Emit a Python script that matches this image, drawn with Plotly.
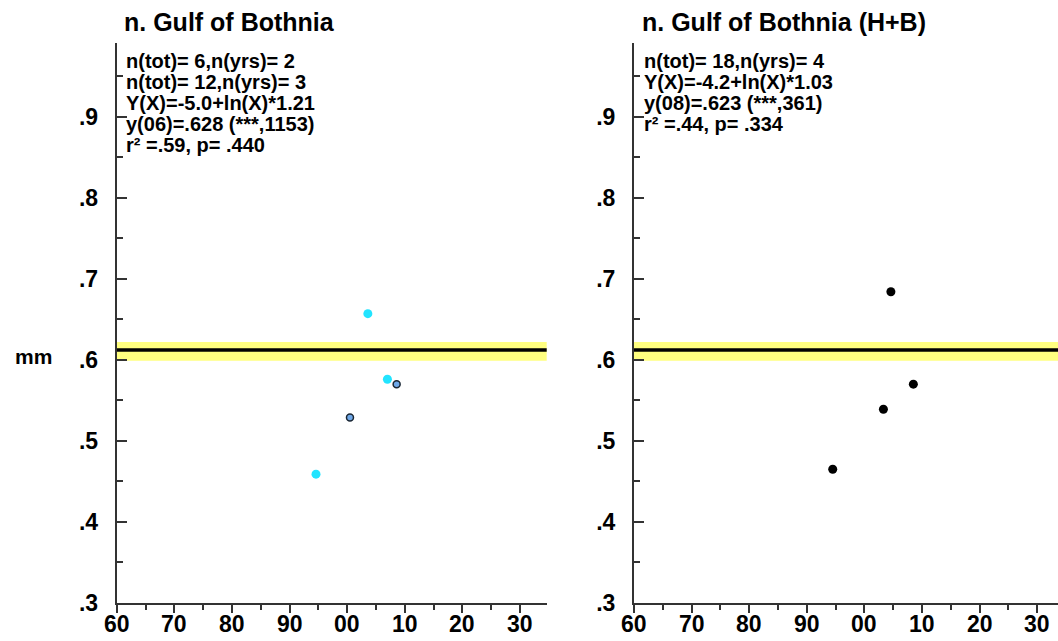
import plotly.graph_objects as go

W, H = 1058, 641

# ---- data ----
left_title = "n. Gulf of Bothnia"
right_title = "n. Gulf of Bothnia (H+B)"
left_stats = ["n(tot)= 6,n(yrs)= 2", "n(tot)= 12,n(yrs)= 3", "Y(X)=-5.0+ln(X)*1.21",
              "y(06)=.628 (***,1153)", "r² =.59, p= .440"]
right_stats = ["n(tot)= 18,n(yrs)= 4", "Y(X)=-4.2+ln(X)*1.03",
               "y(08)=.623 (***,361)", "r² =.44, p= .334"]

cyan_years = [2003.6, 2007.0, 1994.6]
cyan_vals = [0.657, 0.576, 0.459]
blue_years = [2008.6, 2000.5]
blue_vals = [0.570, 0.529]
black_years = [2004.6, 2008.5, 2003.3, 1994.5]
black_vals = [0.684, 0.570, 0.539, 0.465]

ref_level = 0.612
band_lo, band_hi = 0.599, 0.622

ytick_vals = [0.3, 0.4, 0.5, 0.6, 0.7, 0.8, 0.9]
ytick_text = [".3", ".4", ".5", ".6", ".7", ".8", ".9"]
xtick_vals = [1960, 1970, 1980, 1990, 2000, 2010, 2020, 2030]
xtick_text = ["60", "70", "80", "90", "00", "10", "20", "30"]

FONT = "Liberation Sans, Arial, sans-serif"

fig = go.Figure()
fig.add_trace(go.Scatter(x=cyan_years, y=cyan_vals, mode="markers",
                         marker=dict(color="#22E4FF", size=9, line=dict(width=0)),
                         xaxis="x", yaxis="y", showlegend=False))
fig.add_trace(go.Scatter(x=blue_years, y=blue_vals, mode="markers",
                         marker=dict(color="#6FA8E8", size=7, line=dict(color="#1a2633", width=1.5)),
                         xaxis="x", yaxis="y", showlegend=False))
fig.add_trace(go.Scatter(x=black_years, y=black_vals, mode="markers",
                         marker=dict(color="#000000", size=9, line=dict(width=0)),
                         xaxis="x2", yaxis="y2", showlegend=False))

# axis geometry (pixels)
left_x0, left_x1 = 116.7, 546.7
right_x0, right_x1 = 634.0, 1058.0
px_per_year = 5.76
y_bottom, y_top = 603.0, 43.0
px_per_unit = 810.5

yr_max = 0.3 + (y_bottom - y_top) / px_per_unit
xl_max = 1960 + (left_x1 - left_x0) / px_per_year
xr_max = 1960 + (right_x1 - right_x0) / px_per_year

ydom = [(H - y_bottom) / H, (H - y_top) / H]

TICKFONT = dict(family=FONT, size=23, color="black", weight="bold")

def xax(domain, rng, anchor):
    return dict(domain=domain, range=rng, anchor=anchor, automargin=False,
                showgrid=False, zeroline=False, showline=True, linecolor="#333333", linewidth=2,
                tickvals=xtick_vals, ticktext=xtick_text, ticks="outside", ticklen=8,
                tickwidth=1.5, tickcolor="#333333", showticklabels=False,
                minor=dict(dtick=5, tick0=1960, ticks="outside", ticklen=5, tickwidth=1.5, tickcolor="#333333"))

def yax(anchor):
    return dict(domain=ydom, range=[0.3, yr_max], anchor=anchor, automargin=False,
                showgrid=False, zeroline=False, showline=True, linecolor="#333333", linewidth=2,
                tickvals=ytick_vals, ticktext=ytick_text, ticks="inside", ticklen=10,
                tickwidth=1.5, tickcolor="#333333",
                minor=dict(dtick=0.05, tick0=0.3, ticks="inside", ticklen=6, tickwidth=1.5, tickcolor="#333333"),
                tickfont=TICKFONT, ticklabelstandoff=12)

fig.update_layout(
    width=W, height=H, margin=dict(l=0, r=0, t=0, b=0, autoexpand=False),
    paper_bgcolor="white", plot_bgcolor="white",
    xaxis=xax([left_x0 / W, left_x1 / W], [1960, xl_max], "y"),
    yaxis=yax("x"),
    xaxis2=xax([right_x0 / W, 1.0], [1960, xr_max], "y2"),
    yaxis2=yax("x2"),
)

shapes = []
for xr, yr in [("x domain", "y"), ("x2 domain", "y2")]:
    shapes.append(dict(type="rect", xref=xr, yref=yr, x0=0, x1=1, y0=band_lo, y1=band_hi,
                       fillcolor="#FFFF80", line=dict(width=0), layer="below"))
    shapes.append(dict(type="line", xref=xr, yref=yr, x0=0, x1=1, y0=ref_level, y1=ref_level,
                       line=dict(color="black", width=3.5), layer="below"))
fig.update_layout(shapes=shapes)

ann = []
# x tick labels, placed at the tick values
for xr in ["x", "x2"]:
    for v, t in zip(xtick_vals, xtick_text):
        ann.append(dict(text=t, x=v, y=1 - 624 / H, xref=xr, yref="paper",
                        xanchor="center", yanchor="middle", showarrow=False, font=TICKFONT))

for t, xp in [(left_title, 122), (right_title, 640)]:
    ann.append(dict(text=t, x=xp / W, y=1 - 22 / H, xref="paper", yref="paper",
                    xanchor="left", yanchor="middle", showarrow=False,
                    font=dict(family=FONT, size=25, color="black", weight="bold")))
line_y = [61, 82, 103, 124, 145]
STATFONT = dict(family=FONT, size=20, color="black", weight="bold")
for x0, stats in [(125, left_stats), (643, right_stats)]:
    for i, t in enumerate(stats):
        ann.append(dict(text=t, x=x0 / W, y=1 - line_y[i] / H, xref="paper", yref="paper",
                        xanchor="left", yanchor="middle", showarrow=False, font=STATFONT,
                        borderpad=0))

ann.append(dict(text="mm", x=33 / W, y=1 - 356 / H, xref="paper", yref="paper",
                xanchor="center", yanchor="middle", showarrow=False,
                font=dict(family=FONT, size=21, color="black", weight="bold")))
fig.update_layout(annotations=ann)

fig.write_html("out.html")
